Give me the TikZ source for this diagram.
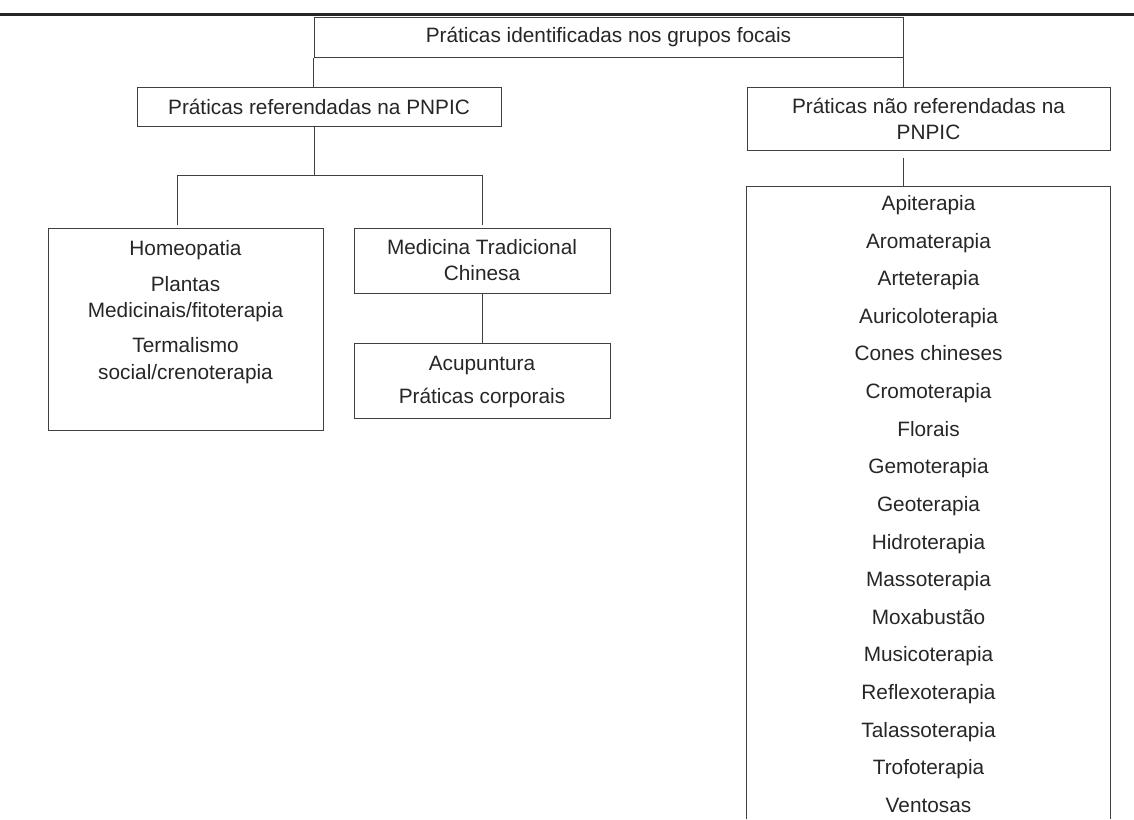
\documentclass[tikz,border=0pt]{standalone}
\usepackage{fontspec}
\setmainfont{Liberation Sans}
\usetikzlibrary{positioning, calc}

\tikzset{
    caixa/.style={draw=black!75, line width=0.5pt, inner sep=0pt, align=center,
        text=black!85, font=\fontsize{10.4}{13}\selectfont},
    texto/.style={inner sep=0pt, align=center, text=black!85,
        text height=7.6pt, text depth=2.2pt,
        font=\fontsize{10.4}{13}\selectfont},
    liga/.style={draw=black!75, line width=0.5pt},
}

\begin{document}
\begin{tikzpicture}[x=0.5pt, y=-0.5pt]
    \useasboundingbox (0,0) rectangle (1134,819);

    % thick rule on top
    \coordinate (regraA) at (0,14);
    \coordinate (regraB) at (1134,14);
    \draw[black!85, line width=1.5pt] (regraA) -- (regraB);

    % boxes
    \node[caixa, minimum width=294.5pt, minimum height=20pt] (topo)
        at (608.5,37) {Práticas identificadas nos grupos focais};
    \node[caixa, minimum width=182pt, minimum height=19.5pt] (ref)
        at (319,106.5) {Práticas referendadas na PNPIC};
    \node[caixa, minimum width=181.5pt, minimum height=31.5pt] (naoref)
        at (928.5,118.5) {Práticas não referendadas na\\PNPIC};
    \node[caixa, minimum width=137.5pt, minimum height=101pt] (homeo)
        at (185.5,329) {};
    \node[caixa, minimum width=128pt, minimum height=32.5pt] (mtc)
        at (482,260.5) {Medicina Tradicional\\Chinesa};
    \node[caixa, minimum width=128pt, minimum height=37.5pt] (acu)
        at (482,380.5) {};
    \node[inner sep=0pt, minimum width=181.5pt, minimum height=316pt] (lista)
        at (928.5,503) {};
    \draw[liga] (lista.south west) -- (lista.north west)
        -- (lista.north east) -- (lista.south east);

    % texts inside the boxes
    \foreach \nome/\y/\txt in {
        homeoA/250/{Homeopatia},
        homeoB/286/{Plantas},
        homeoC/312/{Medicinais/fitoterapia},
        homeoD/347/{Termalismo},
        homeoE/374/{social/crenoterapia}}{
        \node[texto] (\nome) at (185.5,\y) {\txt};
    }
    \foreach \nome/\y/\txt in {
        acuA/365/{Acupuntura},
        acuB/398/{Práticas corporais}}{
        \node[texto] (\nome) at (482,\y) {\txt};
    }
    \foreach \txt [count=\i from 0] in {Apiterapia, Aromaterapia, Arteterapia,
        Auricoloterapia, Cones chineses, Cromoterapia, Florais, Gemoterapia,
        Geoterapia, Hidroterapia, Massoterapia, Moxabustão, Musicoterapia,
        Reflexoterapia, Talassoterapia, Trofoterapia, Ventosas}{
        \node[texto] (item\i) at (928.5,205+\i*37.625) {\txt};
    }

    % connectors
    \draw[liga] (topo.south west) -- (topo.south west |- ref.north);
    \draw[liga] (topo.south east) -- (topo.south east |- naoref.north);

    \coordinate (ramo) at (314,175);
    \coordinate (ramoE) at (177,225);
    \coordinate (ramoD) at (482,225);
    \draw[liga] (ramo |- ref.south) -- (ramo);
    \draw[liga] (ramoE) -- (ramoE |- ramo) -- (ramoD |- ramo) -- (ramoD);

    \draw[liga] (mtc.south) -- (acu.north);
    \draw[liga] ([yshift=-3.5pt]naoref.south -| topo.south east)
        -- (lista.north -| topo.south east);
\end{tikzpicture}
\end{document}
